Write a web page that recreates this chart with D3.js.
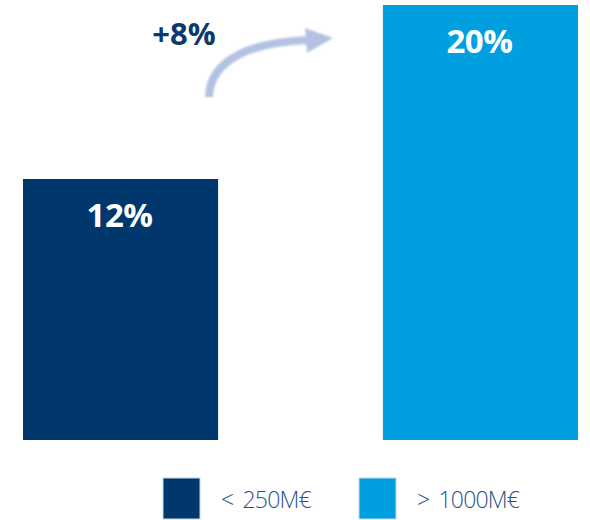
<!DOCTYPE html>
<html>
<head>
<meta charset="utf-8">
<script src="https://cdn.jsdelivr.net/npm/d3@7"></script>
<style>
  body { margin: 0; background: #fff; }
  svg { display: block; }
</style>
</head>
<body>
<script>
// data
var categories = ["< 250M€", "> 1000M€"];
var values = [12, 20];
var valueLabels = ["12%", "20%"];
var changeLabel = "+8%";
var colors = ["#00386E", "#009FE0"];

var width = 590, height = 520;
var baseY = 440;

var svg = d3.select("body").append("svg")
    .attr("width", width)
    .attr("height", height);

var x = d3.scaleBand()
    .domain(categories)
    .range([23, 578])
    .paddingInner(0.458)
    .paddingOuter(0);

var y = d3.scaleLinear()
    .domain([0, 20])
    .range([baseY, 5]);

// bars
svg.append("g").selectAll("rect")
    .data(values)
    .enter()
    .append("rect")
    .attr("x", function(d, i) { return x(categories[i]); })
    .attr("y", function(d) { return y(d); })
    .attr("width", x.bandwidth())
    .attr("height", function(d) { return baseY - y(d); })
    .attr("fill", function(d, i) { return colors[i]; });

// value labels
svg.append("g").selectAll("text")
    .data(values)
    .enter()
    .append("text")
    .attr("x", function(d, i) { return x(categories[i]) + x.bandwidth() / 2 - 1; })
    .attr("y", function(d) { return y(d) + 48; })
    .attr("text-anchor", "middle")
    .style("font-family", "'Open Sans', sans-serif")
    .style("font-weight", "bold")
    .style("font-size", "33px")
    .style("letter-spacing", "-0.5px")
    .attr("fill", "#fff")
    .text(function(d, i) { return valueLabels[i]; });

// change label + arrow
svg.append("text")
    .attr("x", 184)
    .attr("y", 45)
    .attr("text-anchor", "middle")
    .style("font-family", "'Open Sans', sans-serif")
    .style("font-weight", "bold")
    .style("font-size", "31px")
    .attr("fill", "#0B3A6C")
    .text(changeLabel);

var defs = svg.append("defs");
defs.append("filter").attr("id", "soft")
    .append("feGaussianBlur").attr("stdDeviation", 0.8);

var arrow = svg.append("g").attr("filter", "url(#soft)");
arrow.append("path")
    .attr("d", "M209,97 C210,60 250,42 310,40")
    .attr("fill", "none")
    .attr("stroke", "#B3C2E2")
    .attr("stroke-width", 8);
arrow.append("path")
    .attr("d", "M305,28 L333,38 L307,53 Z")
    .attr("fill", "#B3C2E2");

// legend
var legend = svg.append("g").selectAll("g")
    .data(categories)
    .enter()
    .append("g")
    .attr("transform", function(d, i) { return "translate(" + (163 + i * 196) + ",478)"; });

legend.append("rect")
    .attr("width", 37)
    .attr("height", 41)
    .attr("fill", function(d, i) { return colors[i]; })
    .attr("stroke", "#c8d8ea")
    .attr("stroke-width", 1);

legend.append("text")
    .attr("x", 58)
    .attr("y", 30)
    .style("font-family", "'Open Sans', sans-serif")
    .style("font-weight", 300)
    .style("font-size", "23px")
    .style("letter-spacing", "-0.8px")
    .style("word-spacing", "4px")
    .attr("fill", "#2A5283")
    .text(function(d) { return d; });
</script>
</body>
</html>
